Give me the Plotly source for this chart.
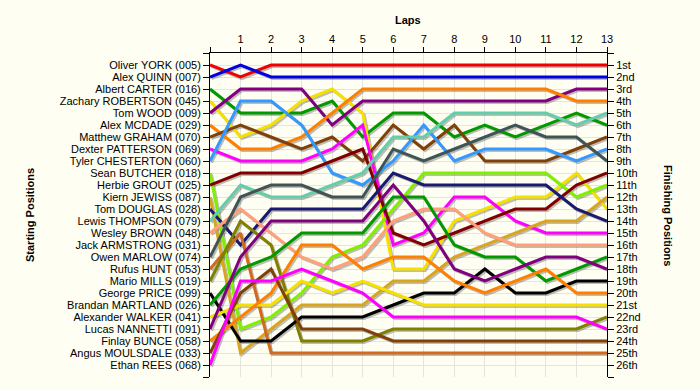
import plotly.graph_objects as go

laps = list(range(14))
lap_labels = [""] + [str(i) for i in range(1, 14)]

start_labels = [
    "Oliver YORK (005)", "Alex QUINN (007)", "Albert CARTER (016)", "Zachary ROBERTSON (045)",
    "Tom WOOD (009)", "Alex MCDADE (029)", "Matthew GRAHAM (070)", "Dexter PATTERSON (069)",
    "Tyler CHESTERTON (060)", "Sean BUTCHER (018)", "Herbie GROUT (025)", "Kiern JEWISS (087)",
    "Tom DOUGLAS (028)", "Lewis THOMPSON (079)", "Wesley BROWN (048)", "Jack ARMSTRONG (031)",
    "Owen MARLOW (074)", "Rufus HUNT (053)", "Mario MILLS (019)", "George PRICE (099)",
    "Brandan MARTLAND (026)", "Alexander WALKER (041)", "Lucas NANNETTI (091)", "Finlay BUNCE (058)",
    "Angus MOULSDALE (033)", "Ethan REES (068)",
]
finish_labels = ["1st", "2nd", "3rd"] + [f"{i}th" for i in range(4, 21)] + ["21st", "22nd", "23rd", "24th", "25th", "26th"]

# positions per lap (lap 0 = start)
york = [1, 2, 1, 1, 1, 1, 1, 1, 1, 1, 1, 1, 1, 1]
quinn = [2, 1, 2, 2, 2, 2, 2, 2, 2, 2, 2, 2, 2, 2]
carter = [3, 5, 5, 5, 4, 7, 5, 5, 7, 6, 7, 6, 5, 6]
robertson = [4, 7, 6, 4, 3, 5, 18, 18, 14, 13, 12, 12, 10, 13]
wood = [5, 3, 3, 3, 6, 4, 4, 4, 4, 4, 4, 4, 3, 3]
mcdade = [6, 8, 8, 7, 5, 3, 3, 3, 3, 3, 3, 3, 4, 4]
graham = [7, 6, 7, 8, 7, 9, 6, 8, 6, 9, 9, 9, 8, 7]
patterson = [8, 9, 9, 9, 8, 6, 16, 15, 12, 12, 14, 15, 15, 15]
chesterton = [9, 4, 4, 6, 10, 11, 9, 6, 9, 8, 8, 8, 9, 8]
butcher = [10, 23, 22, 20, 17, 16, 13, 10, 10, 10, 10, 10, 12, 11]
grout = [11, 10, 10, 10, 9, 8, 15, 16, 15, 14, 13, 13, 11, 10]
jewiss = [12, 25, 23, 21, 21, 21, 19, 19, 17, 16, 15, 14, 14, 12]
douglas = [13, 16, 13, 13, 13, 13, 10, 11, 11, 11, 11, 11, 13, 14]
thompson = [14, 11, 12, 12, 11, 10, 7, 7, 5, 5, 5, 5, 6, 5]
brown = [15, 13, 15, 17, 18, 17, 14, 13, 13, 15, 16, 16, 16, 16]
armstrong = [16, None, None, None, None, None, None, None, None, None, None, None, None, None]
marlow = [17, 12, 11, 11, 12, 12, 8, 9, 8, 7, 6, 7, 7, 9]
hunt = [18, 15, 25, 25, 25, 25, 25, 25, 25, 25, 25, 25, 25, 25]
mills = [19, 14, 16, 24, 24, 24, 23, 23, 23, 23, 23, 23, 23, 22]
price = [20, 24, 24, 22, 22, 22, 21, 20, 20, 18, 20, 20, 19, 19]
martland = [21, 18, 17, 15, 15, 15, 12, 12, 16, 17, 17, 19, 18, 17]
walker = [22, 21, 21, 19, 20, 19, 20, 21, 21, 21, 21, 21, 21, 21]
nannetti = [23, 17, 14, 14, 14, 14, 11, 14, 18, 19, 18, 17, 17, 18]
bunce = [24, 22, 20, 16, 16, 18, 17, 17, 19, 20, 19, 18, 20, 20]
moulsdale = [25, 20, 18, 23, 23, 23, 24, 24, 24, 24, 24, 24, 24, 24]
rees = [26, 19, 19, 18, 19, 20, 22, 22, 22, 22, 22, 22, 22, 23]

series = [york, quinn, carter, robertson, wood, mcdade, graham, patterson, chesterton,
          butcher, grout, jewiss, douglas, thompson, brown, armstrong, marlow, hunt, mills,
          price, martland, walker, nannetti, bunce, moulsdale, rees]

colors = [
    "#f00000", "#0000e0", "#009a00", "#f5e000", "#800080", "#ff8000", "#80400a", "#ff00ff",
    "#3399ff", "#80f000", "#800000", "#d9a520", "#1a1a70", "#66cdaa", "#ffa07a", "#a0a0a0",
    "#3f5555", "#d2691e", "#808000", "#000000", "#009a00", "#f5e000", "#800080", "#ff8000",
    "#80400a", "#ff00ff",
]

BG = "#fefef2"
FONT = "Liberation Sans, Arial, sans-serif"

fig = go.Figure()

# drop shadows
for s in series:
    fig.add_trace(go.Scatter(
        x=[l + 0.05 for l in laps], y=[(v + 0.13) if v is not None else None for v in s],
        mode="lines", line=dict(color="rgba(40,40,40,0.3)", width=3),
        hoverinfo="skip", showlegend=False))

for name, s, c in zip(start_labels, series, colors):
    fig.add_trace(go.Scatter(x=laps, y=s, mode="lines", name=name,
                             line=dict(color=c, width=3), showlegend=False))

# invisible trace for right axis
fig.add_trace(go.Scatter(x=[0], y=[1], yaxis="y2", mode="markers",
                         marker=dict(opacity=0), hoverinfo="skip", showlegend=False))

ytick_vals = list(range(0, 28))
left_text = [""] + start_labels + [""]
right_text = [""] + finish_labels + [""]

L, R, T, B = 210, 93, 53, 13
pw, ph = 700 - L - R, 390 - T - B

fig.update_layout(
    width=700, height=390,
    paper_bgcolor=BG, plot_bgcolor=BG,
    margin=dict(l=L, r=R, t=T, b=B, autoexpand=False),
    font=dict(family=FONT, size=11, color="#000"),
    xaxis=dict(range=[0, 13], side="top", tickvals=laps, ticktext=lap_labels,
               ticks="outside", ticklen=5, tickcolor="#000", showline=True, linecolor="#000",
               linewidth=1, showgrid=True, gridcolor="#e4e4e0", gridwidth=1, zeroline=False,
               tickfont=dict(size=11), automargin=False),
    yaxis=dict(range=[27, 0], tickvals=ytick_vals, ticktext=left_text, ticks="outside",
               ticklen=6, tickcolor="#000", showline=True, linecolor="#000", linewidth=1,
               showgrid=True, gridcolor="#e4e4e0", zeroline=False, tickfont=dict(size=11),
               automargin=False),
    yaxis2=dict(range=[27, 0], overlaying="y", side="right", tickvals=ytick_vals,
                ticktext=right_text, ticks="outside", ticklen=6, tickcolor="#000",
                showline=True, linecolor="#000", linewidth=1, showgrid=False, zeroline=False,
                tickfont=dict(size=11), automargin=False),
    annotations=[
        dict(text="<b>Laps</b>", x=(408 - L) / pw, y=(390 - B - 20) / ph, xref="paper",
             yref="paper", showarrow=False, font=dict(size=11),
             xanchor="center", yanchor="middle"),
        dict(text="<b>Starting Positions</b>", x=(30 - L) / pw, y=0.5, xref="paper",
             yref="paper", showarrow=False, textangle=-90, font=dict(size=11),
             xanchor="center", yanchor="middle"),
        dict(text="<b>Finishing Positions</b>", x=(668 - L) / pw, y=0.5, xref="paper",
             yref="paper", showarrow=False, textangle=90, font=dict(size=11),
             xanchor="center", yanchor="middle"),
    ],
)

fig.write_html(
    "out.html",
    config={"displayModeBar": False},
    post_script="document.body.style.margin='0';document.body.style.background='#fefef2';",
)
